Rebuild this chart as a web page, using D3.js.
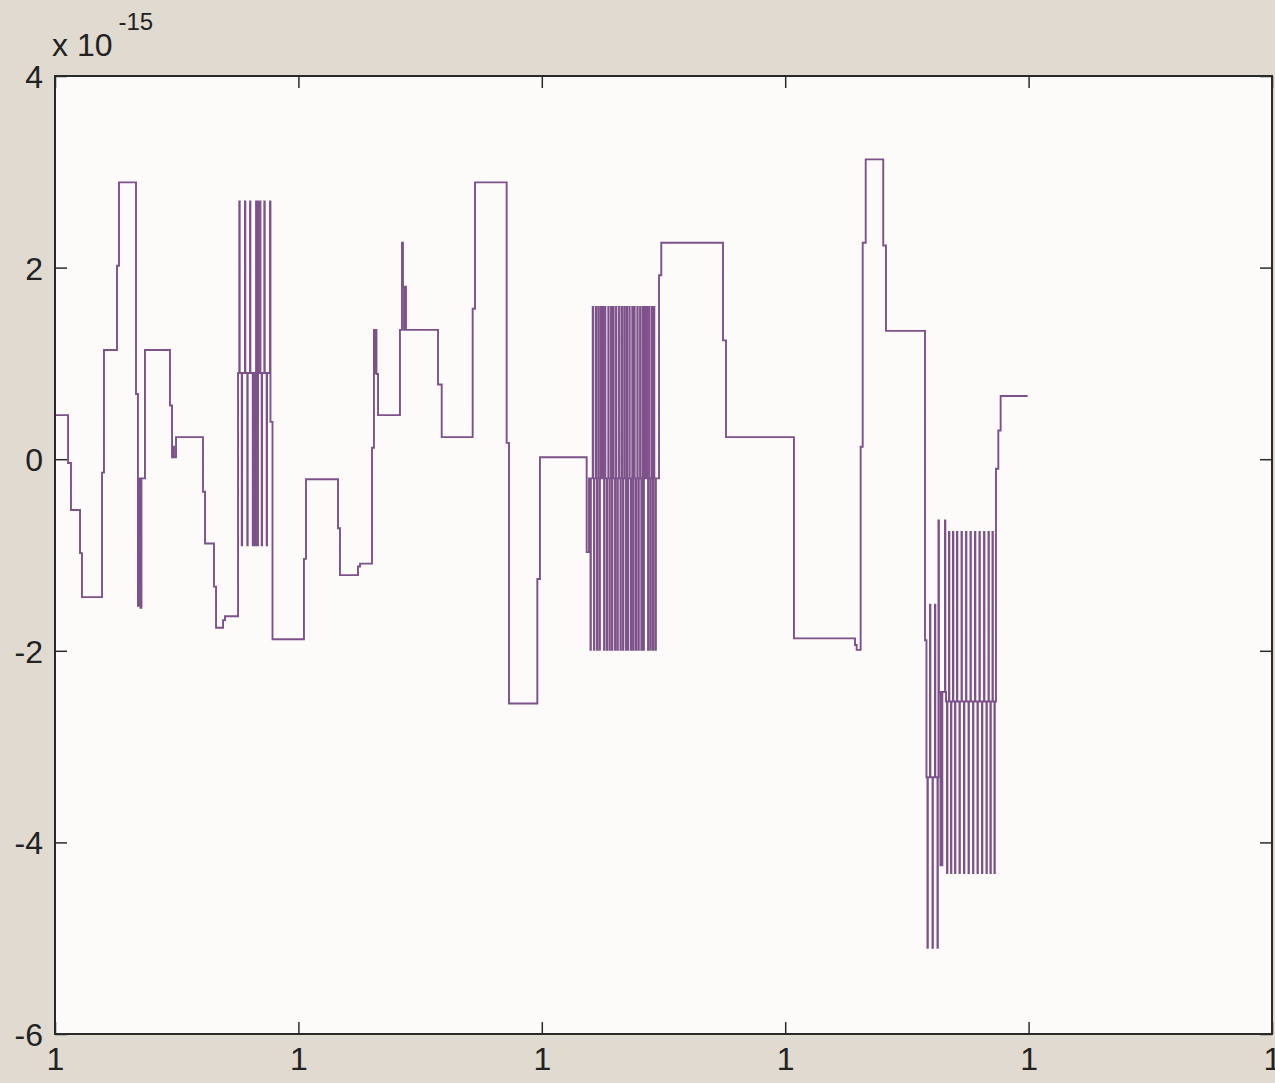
<!DOCTYPE html>
<html>
<head>
<meta charset="utf-8">
<script src="https://cdn.jsdelivr.net/npm/d3@7"></script>
<style>
  html, body { margin: 0; padding: 0; background: #e0dad0; }
  svg { display: block; }
  .tick text { font-family: "Liberation Sans", Arial, sans-serif; font-size: 32px; fill: #222; }
</style>
</head>
<body>
<div id="chart"></div>
<script>
// Data (x = sample index, y in units of 1e-15)
// main change points of the step signal
var stepX = [0, 13.4, 16.4, 25.7, 27.7, 48.3, 50.3, 63.7, 65.7, 83.2, 85.2, 86.8, 87.8, 88.8, 92.4,
  118.1, 120.2, 121.2, 122.2, 124.3, 152.0, 154.1, 163.3, 165.4, 172.6, 174.6, 188.0,
  220.8, 221.3, 223.4, 255.7, 257.8, 290.7, 292.7, 311.2, 313.3, 325.6, 327.6, 328.7, 329.4, 330.2, 331.8,
  354.3, 356.4, 357.4, 358.5, 359.5, 360.5, 393.4, 397.2, 429.0, 431.4, 463.9, 466.3, 495.4, 498.1,
  546.1, 548.5, 620.4, 622.7, 686.1, 689.2, 759.0, 821.7, 823.4, 827.5, 829.6, 832.7, 850.7, 853.5,
  893.6, 895.1, 907.4, 907.9, 915.2, 966.5, 968.9, 971.3, 999];
var stepY = [0.46, -0.04, -0.53, -0.98, -1.44, -0.14, 1.14, 2.02, 2.89, 0.68, -1.53, -0.2, -1.55, -0.2, 1.14,
  0.56, 0.02, 0.13, 0.02, 0.23, -0.34, -0.88, -1.33, -1.76, -1.68, -1.64, 0.9,
  2.69, 0.39, -1.88, -1.04, -0.21, -0.72, -1.21, -1.12, -1.09, 0.12, 1.35, 0.9, 1.35, 0.89, 0.46,
  1.35, 2.26, 1.8, 1.35, 1.8, 1.35, 0.78, 0.23, 1.57, 2.89, 0.17, -2.55, -1.25, 0.02,
  -0.97, -0.2, 1.92, 2.26, 1.24, 0.23, -1.87, -1.94, -1.99, 0.13, 2.26, 3.13, 2.23, 1.34,
  -1.89, -3.32, -0.64, -2.43, -2.53, -0.1, 0.3, 0.66, 0.66];

// rapid oscillation bursts: base level, upper and lower level
var burstMid = [0.9, -0.2, -3.32, -2.43, -2.53];
var burstHi  = [2.69, 1.59, -1.52, -0.64, -0.76];
var burstLo  = [-0.9, -1.99, -5.1, -4.24, -4.32];
var burstUp = [
  [189.3, 195.1, 200.3, 206.5, 208.5, 210.6, 215.0],
  [552.3, 555.4, 558.0, 560.5, 562.5, 564.9, 568.3, 571.1, 573.4, 576.2, 579.3, 582.1, 584.7,
   587.2, 589.9, 592.9, 595.0, 598.1, 600.9, 603.6, 605.7, 607.7, 610.1, 612.9, 615.2],
  [898.7, 903.8],
  [914.1],
  [918.2, 922.3, 926.4, 931.1, 935.7, 940.3, 944.9, 949.5, 954.2, 958.8, 962.9]
];
var burstDown = [
  [191.8, 197.5, 203.1, 205.4, 207.2, 208.2, 212.3, 217.4],
  [550.0, 553.6, 556.7, 559.3, 563.9, 566.7, 569.5, 572.1, 575.2, 577.7, 580.8, 583.4, 586.5,
   588.5, 591.6, 594.0, 596.7, 599.3, 602.2, 604.5, 609.1, 611.6, 614.2, 616.8],
  [896.1, 901.3, 906.4],
  [909.5, 911.0],
  [916.2, 920.3, 924.4, 929.0, 933.6, 938.3, 942.9, 947.5, 952.1, 956.7, 960.8, 964.9]
];

var yTicks = [-6, -4, -2, 0, 2, 4];
var xTicks = [0, 250, 500, 750, 1000, 1250];

// build the change point list
var points = stepX.map(function(d, i) { return [d, stepY[i]]; });
burstMid.forEach(function(mid, b) {
  burstUp[b].forEach(function(s) {
    points.push([s, burstHi[b]]);
    points.push([s + 0.4, mid]);
  });
  burstDown[b].forEach(function(s) {
    points.push([s, burstLo[b]]);
    points.push([s + 0.4, mid]);
  });
});
points.sort(function(a, b) { return a[0] - b[0]; });

var svgWidth = 1275;
var svgHeight = 1083;
var margin = { top: 76, right: 3, bottom: 49, left: 55 };

var svg = d3.select("#chart")
  .append("svg")
  .attr("width", svgWidth)
  .attr("height", svgHeight);

var xScale = d3.scaleLinear()
  .domain([0, 1250])
  .range([margin.left, svgWidth - margin.right]);

var yScale = d3.scaleLinear()
  .domain([-6, 4])
  .range([svgHeight - margin.bottom, margin.top]);

// plot area
svg.append("rect")
  .attr("x", margin.left)
  .attr("y", margin.top)
  .attr("width", svgWidth - margin.right - margin.left)
  .attr("height", svgHeight - margin.bottom - margin.top)
  .attr("fill", "#fcfbfa");

// the signal
var line = d3.line()
  .x(d => xScale(d[0]))
  .y(d => yScale(d[1]))
  .curve(d3.curveStepAfter);

svg.append("path")
  .datum(points)
  .attr("d", line)
  .attr("fill", "none")
  .attr("stroke", "#7d5189")
  .attr("stroke-width", 1.9);

// axes with inward ticks
function styleAxis(g) {
  g.select(".domain").remove();
  g.selectAll(".tick line").attr("stroke", "#2a2a2a").attr("stroke-width", 1.5);
}

svg.append("g")
  .attr("transform", `translate(${margin.left},0)`)
  .call(d3.axisLeft(yScale).tickValues(yTicks).tickSize(-12).tickPadding(12).tickFormat(d => String(d)))
  .call(styleAxis)
  .selectAll("text").attr("dy", "0.36em");

svg.append("g")
  .attr("transform", `translate(${svgWidth - margin.right},0)`)
  .call(d3.axisRight(yScale).tickValues(yTicks).tickSize(-12).tickFormat(""))
  .call(styleAxis);

svg.append("g")
  .attr("transform", `translate(0,${svgHeight - margin.bottom})`)
  .call(d3.axisBottom(xScale).tickValues(xTicks).tickSize(-12).tickPadding(10).tickFormat(() => "1"))
  .call(styleAxis)
  .selectAll("text").attr("dy", "0.8em");

svg.append("g")
  .attr("transform", `translate(0,${margin.top})`)
  .call(d3.axisTop(xScale).tickValues(xTicks).tickSize(-12).tickFormat(""))
  .call(styleAxis);

// box
svg.append("rect")
  .attr("x", margin.left)
  .attr("y", margin.top)
  .attr("width", svgWidth - margin.right - margin.left)
  .attr("height", svgHeight - margin.bottom - margin.top)
  .attr("fill", "none")
  .attr("stroke", "#2a2a2a")
  .attr("stroke-width", 2);

// exponent label
var expLabel = svg.append("text")
  .attr("x", 52)
  .attr("y", 56)
  .attr("font-family", "Liberation Sans, Arial, sans-serif")
  .attr("font-size", 32)
  .attr("fill", "#222");
expLabel.append("tspan").text("x 10");
expLabel.append("tspan")
  .attr("dy", -26)
  .attr("dx", 6)
  .attr("font-size", 24)
  .text("-15");
</script>
</body>
</html>
